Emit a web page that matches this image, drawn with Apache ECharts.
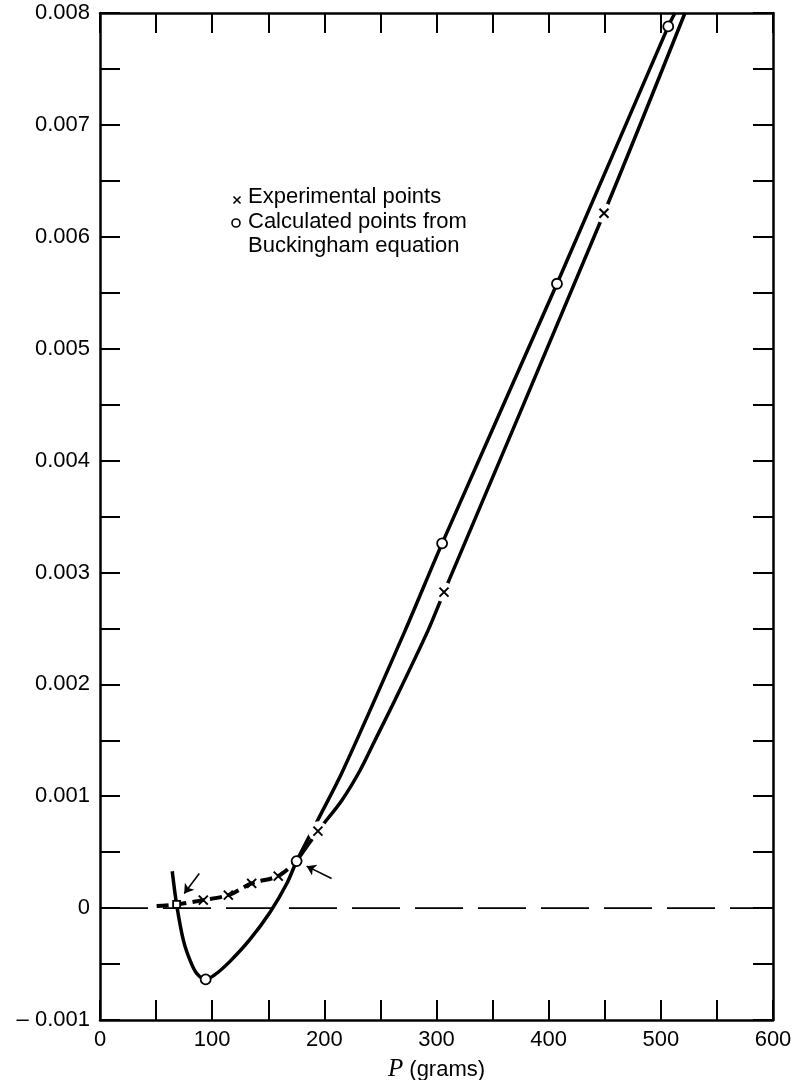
<!DOCTYPE html>
<html><head><meta charset="utf-8">
<script src="https://cdn.jsdelivr.net/npm/echarts@6/dist/echarts.min.js"></script>
<style>html,body{margin:0;padding:0;background:#fff}#c{width:794px;height:1080px}</style>
</head><body><div id="c"></div>
<script>
// ---- data ----
const xLabels = ['0', '100', '200', '300', '400', '500', '600'];
const yLabels = ['\u2013 0.001', '0', '0.001', '0.002', '0.003', '0.004', '0.005', '0.006', '0.007', '0.008'];

// calculated (Buckingham) curve
const calcCurveP = [64.4, 68.3, 74.3, 80.2, 86.2, 94.2, 102.5, 115.9, 133.7, 151.6, 166.7, 175.3, 194.3, 216.6, 272, 305, 407.4, 506.6, 512.6];
const calcCurveV = [0.00033, 0.000033, -0.000286, -0.000465, -0.000584, -0.000637, -0.000595, -0.000476, -0.00028, -0.000037, 0.000222, 0.00042, 0.00079, 0.00123, 0.00248, 0.00326, 0.00558, 0.00788, 0.008];

// experimental curve, dashed low part and solid upper part
const expLowP = [50.5, 68.3, 92.1, 114.4, 135.2, 158.9, 175.3];
const expLowV = [0.000018, 0.000033, 0.0000715, 0.000116, 0.000221, 0.000286, 0.00042];
const expHighP = [175.3, 194.3, 215.7, 231.8, 245.2, 263, 292.4, 306.7, 449.3, 521.5];
const expHighV = [0.00042, 0.000688, 0.000965, 0.00123, 0.0015, 0.00186, 0.00248, 0.002824, 0.00621, 0.008];

// experimental points (x marks)
const crossP = [92.1, 114.4, 135.2, 158.9, 194.3, 306.7, 449.3];
const crossV = [0.0000715, 0.000116, 0.000221, 0.000286, 0.000688, 0.002824, 0.00621];
const crossGapIdx = [4, 5, 6];

// calculated points (circles)
const circP = [94.2, 175.3, 305, 407.4, 506.6];
const circV = [-0.000637, 0.00042, 0.00326, 0.00558, 0.00788];

// coincident point (square)
const sqP = [68.3];
const sqV = [0.000033];

// arrows [from -> to]
const arrowFromP = [88.5, 206.5];
const arrowFromV = [0.00031, 0.000265];
const arrowToP = [75.1, 184.2];
const arrowToV = [0.000131, 0.000375];

// zero reference line
const zeroP = [0, 600];
const zeroV = [0, 0];

// ---- chart ----
const pairs = (a, b) => a.map((v, i) => [v, b[i]]);
const INK = '#000';
const chart = echarts.init(document.getElementById('c'), null, {renderer: 'canvas'});

const tickCommon = {show: true, inside: true, length: 20, lineStyle: {color: INK, width: 2}};
const lineCommon = {show: true, onZero: false, lineStyle: {color: INK, width: 2.5}};

const option = {
  animation: false,
  backgroundColor: '#fff',
  grid: {left: 100, right: 21, top: 13, bottom: 60, containLabel: false, outerBoundsMode: 'none'},
  xAxis: [{
    type: 'value', min: 0, max: 600, interval: 50, position: 'bottom',
    axisLine: lineCommon, axisTick: tickCommon, splitLine: {show: false},
    axisLabel: {
      color: INK, fontSize: 22, fontFamily: 'Liberation Sans', margin: 9,
      formatter: v => (Math.round(v) % 100 === 0 ? xLabels[Math.round(v) / 100] : '')
    },
    name: '{i|P} (grams)', nameLocation: 'middle', nameGap: 37,
    nameTextStyle: {color: INK, fontSize: 22, fontFamily: 'Liberation Sans',
      rich: {i: {fontFamily: 'Liberation Serif', fontStyle: 'italic', fontSize: 25, color: INK}}}
  }, {
    type: 'value', min: 0, max: 600, interval: 50, position: 'top',
    axisLine: lineCommon, axisTick: tickCommon, splitLine: {show: false}, axisLabel: {show: false}
  }],
  yAxis: [{
    type: 'value', min: -0.001, max: 0.008, interval: 0.0005, position: 'left',
    axisLine: lineCommon, axisTick: tickCommon, splitLine: {show: false},
    axisLabel: {
      color: INK, fontSize: 22, fontFamily: 'Liberation Sans', margin: 10,
      formatter: v => { const k = Math.round((v + 0.001) / 0.0005); return k % 2 ? '' : yLabels[k / 2]; }
    },
    name: 'V/t', nameLocation: 'middle', nameGap: 70, nameRotate: 90,
    nameTextStyle: {color: INK, fontSize: 25, fontFamily: 'Liberation Serif', fontStyle: 'italic'}
  }, {
    type: 'value', min: -0.001, max: 0.008, interval: 0.0005, position: 'right',
    axisLine: lineCommon, axisTick: tickCommon, splitLine: {show: false}, axisLabel: {show: false}
  }],
  series: [
    {type: 'line', name: 'zero', data: pairs(zeroP, zeroV), showSymbol: false, z: 1,
      lineStyle: {color: INK, width: 1.8, type: [48, 15]}},
    {type: 'line', name: 'calc', data: pairs(calcCurveP, calcCurveV), showSymbol: false, smooth: 0.3, z: 2,
      lineStyle: {color: INK, width: 3.5}},
    {type: 'line', name: 'expLow', data: pairs(expLowP, expLowV), showSymbol: false, smooth: 0.3, z: 2,
      lineStyle: {color: INK, width: 4, type: [12, 6]}},
    {type: 'line', name: 'expHigh', data: pairs(expHighP, expHighV), showSymbol: false, smooth: 0.3, z: 2,
      lineStyle: {color: INK, width: 3.5}},
    {type: 'scatter', name: 'gaps', data: crossGapIdx.map(i => [crossP[i], crossV[i]]), symbol: 'circle', symbolSize: 20, z: 3,
      itemStyle: {color: '#fff', opacity: 1}},
    {type: 'scatter', name: 'crosses', data: pairs(crossP, crossV), symbol: 'path://M0,0L10,10M10,0L0,10', symbolSize: 9, z: 4,
      itemStyle: {color: 'none', borderColor: INK, borderWidth: 2, opacity: 1}},
    {type: 'scatter', name: 'circles', data: pairs(circP, circV), symbol: 'circle', symbolSize: 10, z: 5,
      itemStyle: {color: '#fff', borderColor: INK, borderWidth: 1.8, opacity: 1}},
    {type: 'scatter', name: 'square', data: pairs(sqP, sqV), symbol: 'rect', symbolSize: 7, z: 5,
      itemStyle: {color: '#fff', borderColor: INK, borderWidth: 1.8, opacity: 1}},
    {type: 'lines', coordinateSystem: 'cartesian2d', z: 5,
      data: arrowFromP.map((p, i) => ({coords: [[p, arrowFromV[i]], [arrowToP[i], arrowToV[i]]]})),
      symbol: ['none', 'arrow'], symbolSize: [0, 9],
      lineStyle: {color: INK, width: 1.6, opacity: 1}}
  ],
  graphic: [
    {type: 'group', left: 231, top: 194, children: [
      {type: 'line', shape: {x1: 0, y1: 0, x2: 7, y2: 7}, style: {stroke: INK, lineWidth: 1.6}},
      {type: 'line', shape: {x1: 7, y1: 0, x2: 0, y2: 7}, style: {stroke: INK, lineWidth: 1.6}}
    ]},
    {type: 'circle', shape: {cx: 236, cy: 223, r: 4}, style: {fill: '#fff', stroke: INK, lineWidth: 1.6}},
    {type: 'text', left: 248, top: 186, style: {text: 'Experimental points', fill: INK, font: '22px "Liberation Sans"'}},
    {type: 'text', left: 248, top: 211, style: {text: 'Calculated points from', fill: INK, font: '22px "Liberation Sans"'}},
    {type: 'text', left: 248, top: 235, style: {text: 'Buckingham equation', fill: INK, font: '22px "Liberation Sans"'}}
  ]
};
chart.setOption(option);
</script></body></html>
